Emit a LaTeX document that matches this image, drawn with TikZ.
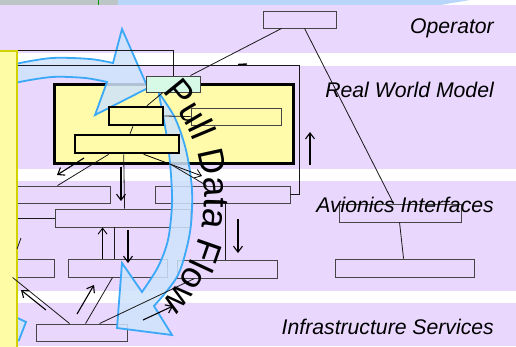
\documentclass[tikz,border=0pt]{standalone}
\usepackage{fontspec}
\setmainfont{Liberation Sans}
\usetikzlibrary{decorations.text,arrows.meta}
\definecolor{lav}{HTML}{E9D7FD}
\definecolor{boxline}{HTML}{454545}
\definecolor{ylw}{HTML}{FFFBAA}
\definecolor{yrfill}{HTML}{FFFCA6}
\definecolor{yrline}{HTML}{D2D200}
\definecolor{mint}{HTML}{D6FAE6}
\definecolor{bline}{HTML}{3BA9F7}
\definecolor{bfill}{HTML}{CFE3FC}
\definecolor{topgray}{HTML}{BDC6C6}
\definecolor{topblue}{HTML}{B8D5FA}
\begin{document}
\begin{tikzpicture}[x=1pt,y=-1pt,
  box/.style={draw=boxline, fill=lav, line width=0.9pt, inner sep=0pt, minimum width=#1},
  ybox/.style={draw=black, fill=ylw, line width=2.6pt, inner sep=0pt, minimum width=#1},
  conn/.style={draw=black!90, line width=0.8pt},
  arr/.style={draw=black, line width=1.1pt, -{Straight Barb[length=6pt,width=9pt]}},
  lbl/.style={font=\fontsize{21.2}{25}\selectfont\itshape, anchor=east, inner sep=0pt},
  barrow/.style={draw=bline, line width=1.8pt, fill=bfill, fill opacity=0.85, line join=miter},
]
\useasboundingbox (0,0) rectangle (516,346);
\fill[white] (0,0) rectangle (516,346);
% top strip
\fill[topgray] (0,0) rectangle (118,5);
\fill[topblue] (118,0) -- (470,0) -- (440,5) -- (118,5) -- cycle;
\draw[green!60!black, line width=0.6pt] (98,0) -- (98,5);
% bands
\fill[lav] (0,5) rectangle (516,53);
\fill[lav] (0,66) rectangle (516,169);
\fill[lav] (0,181) rectangle (516,291);
\fill[lav] (0,303) rectangle (516,346);

% lavender boxes
\node[box=73pt, minimum height=17pt] (op) at (299.5,19.5) {};
\node[box=105pt, minimum height=17pt] (L1) at (57.5,194.5) {};
\node[box=135pt, minimum height=17pt] (E) at (222.5,194.5) {};
\node[box=122pt, minimum height=18pt] (K) at (400,213) {};
\node[box=135pt, minimum height=18pt] (D) at (122.5,218) {};
\node[box=49pt, minimum height=18pt] (F) at (29.5,268) {};
\node[box=99pt, minimum height=18pt] (G) at (117.5,268) {};
\node[box=100pt, minimum height=18pt] (H) at (227,269) {};
\node[box=139pt, minimum height=18pt] (M) at (404.5,268) {};
\node[box=91pt, minimum height=17pt] (I) at (81.5,332.5) {};

% big yellow box
\node[ybox=239pt, minimum height=79pt, line width=3pt] (big) at (173.5,123.5) {};

% blue circular arrows
\draw[barrow] (-5,91) -- plot[smooth] coordinates {(-5,91) (15,83) (52,77) (85,78) (107,82)}
  -- (95,115) -- (148,88) -- (122,29) -- (113,63)
  -- plot[smooth] coordinates {(113,63) (90,59) (52,58) (15,64) (-5,70)} -- cycle;
\draw[barrow] (159,93) -- plot[smooth] coordinates {(159,93) (175,118) (186,150) (192,190) (190,232) (178,275) (154,306)}
  -- (172,335) -- (117,328) -- (122,263) -- (142,292)
  -- plot[smooth] coordinates {(142,292) (158,267) (168,240) (172,205) (171,175) (168,145) (163,115) (159,95)} -- cycle;
\draw[barrow] (5,312) -- (26,322) -- (19,340) -- (5,346) -- cycle;

% yellow / green inner boxes
\node[draw=boxline, fill=ylw, line width=0.9pt, inner sep=0pt, minimum width=90pt, minimum height=17pt] (C) at (236,116.5) {};
\node[ybox=54pt, minimum height=18pt] (A) at (136,116) {};
\node[ybox=104pt, minimum height=18pt] (B) at (127,144) {};
\node[draw=boxline, fill=mint, line width=0.9pt, inner sep=0pt, minimum width=54pt, minimum height=16pt] (green) at (173,84) {};

% left yellow panel
\node[draw=yrline, fill=yrfill, line width=2pt, inner sep=0pt, minimum width=18pt, minimum height=300pt, anchor=north west] (yr) at (-2,50) {};

% connectors
\draw[conn] ([xshift=19pt]op.south west) -- ([xshift=-10pt]green.north east);
\draw[conn] ([xshift=42pt]op.south west) -- ([xshift=55pt]K.north west);
\draw[conn] ([xshift=61pt]K.south west) -- ([xshift=69pt]M.north west);
\draw[conn] (yr.north east) -| (green.north);
\draw[conn] ([yshift=-15pt]yr.north east) -| ([xshift=9pt]E.east) -- (E.east);
\draw[line width=1.4pt] (238,64.5) -- (247,64);
\draw[conn] ([xshift=-10pt]green.south) -- ([xshift=11pt]A.north);
\draw[conn] (A.east) -- (C.west);
\draw[conn] ([xshift=-3pt]A.south) -- ([xshift=3pt]B.north);
\draw[conn] ([xshift=35pt]B.south west) -- ([xshift=53pt]L1.north west);
\draw[conn] ([xshift=50pt]B.south west) -- ([xshift=70pt]D.north west);
\coordinate (bE) at (202,176);
\draw[arr, line width=0.8pt] ([xshift=70pt]B.south west) -- (bE);
\draw[conn] ([xshift=118.5pt]big.south west) -- ([xshift=52pt]E.north west);
\draw[conn] (D.west -| yr.east) -- (D.west);
\draw[arr, line width=0.9pt] ([xshift=35pt]G.north west) -- ([xshift=48pt]D.south west);
\draw[conn] ([xshift=47pt]G.north west) -- ([xshift=60pt]D.south west);
\draw[conn] ([xshift=71pt]E.south west) -- ([xshift=49pt]H.north west);
\draw[conn] ([xshift=34pt]I.north west) -- ([xshift=8pt]F.south west);
\draw[conn] ([xshift=50pt]I.north west) -- ([xshift=45pt]G.south west);
\draw[conn] ([xshift=64pt]I.north west) -- ([xshift=18pt]H.south west);
\draw[conn] (17,249) -- (21,238);

% floating arrows
\coordinate (f1s) at (84,158);  \coordinate (f1e) at (57,175);
\coordinate (f2s) at (121,167); \coordinate (f2e) at (121,201);
\coordinate (f3s) at (128,230); \coordinate (f3e) at (128,263);
\coordinate (f4s) at (238,219); \coordinate (f4e) at (238,253);
\coordinate (f5s) at (310,165); \coordinate (f5e) at (310,132);
\coordinate (f6s) at (46,310);  \coordinate (f6e) at (21,290);
\coordinate (f7s) at (77,314);  \coordinate (f7e) at (94,285);
\coordinate (f8s) at (143,320); \coordinate (f8e) at (173,306);
\foreach \i in {1,...,8} {\draw[arr] (f\i s) -- (f\i e);}

% labels (on top)
\node[lbl] (lop) at (494,28) {Operator};
\node[lbl] (lrwm) at (494,90) {Real World Model};
\node[lbl] (lavi) at (494,205) {Avionics Interfaces};
\node[lbl] (linf) at (494,327) {Infrastructure Services};

% curved text
\path[decorate, decoration={text along path, text align=center,
  text={|\fontsize{36}{36}\selectfont|Pull Data Flow}}]
  (52,197) ++(-51:152) arc[start angle=-51, end angle=51, radius=152];
\end{tikzpicture}
\end{document}
